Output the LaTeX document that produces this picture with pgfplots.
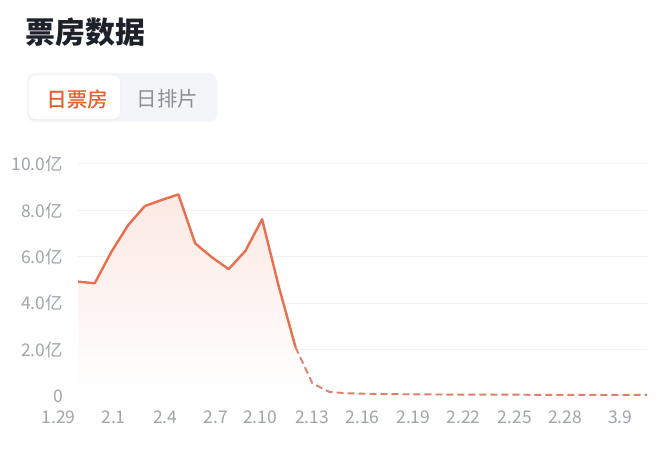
\documentclass[border=0pt]{standalone}
\usepackage{fontspec}
\setmainfont{Noto Sans CJK SC}
\newfontfamily\cjkmed[FakeBold=0.8]{Noto Sans CJK SC}
\usepackage{pgfplots}
\pgfplotsset{compat=1.18}
\definecolor{linec}{RGB}{232,112,78}
\definecolor{dashc}{RGB}{222,128,104}
\definecolor{tickc}{RGB}{160,164,171}
\definecolor{gridc}{RGB}{240,241,243}
\definecolor{titlec}{RGB}{29,33,41}
\definecolor{tabbg}{RGB}{243,245,248}
\definecolor{taborange}{RGB}{230,98,45}
\definecolor{tabgray}{RGB}{139,143,152}

\begin{document}
\begin{tikzpicture}[x=1bp,y=1bp]
\useasboundingbox[fill=white] (0,0) rectangle (660,462);
% title and tabs
\node[anchor=west, inner sep=0, text=titlec, font=\fontsize{30}{30}\selectfont\bfseries] at (25.5,429.5) {票房数据};
\fill[tabbg, rounded corners=8bp] (27,340) rectangle (217,389);
\fill[black!6, rounded corners=7bp] (29,341.5) rectangle (120.5,386);
\fill[white, rounded corners=7bp] (29,343) rectangle (120,386.5);
\node[inner sep=0, text=taborange, font=\fontsize{20.5}{20.5}\selectfont\cjkmed] at (77,363) {日票房};
\node[inner sep=0, text=tabgray, font=\fontsize{20.5}{20.5}\selectfont] at (167.5,363) {日排片};

\begin{axis}[
    at={(78bp,66bp)}, anchor=south west,
    scale only axis, width=569bp, height=232bp,
    xmin=0, xmax=34, ymin=0, ymax=10,
    axis line style={draw=none},
    major tick length=0pt,
    ytick={0,2,4,6,8,10},
    yticklabels={0,2.0亿,4.0亿,6.0亿,8.0亿,10.0亿},
    xtick={2.12,5.22,8.23,10.88,13.99,17.01,20.04,23.04,26.1,29.1,32.4},
    xticklabels={2.1,2.4,2.7,2.10,2.13,2.16,2.19,2.22,2.25,2.28,3.9},
    ymajorgrids, grid style={gridc, line width=1bp},
    tick label style={inner sep=0pt, text=tickc, font=\fontsize{17.5}{17.5}\selectfont},
    xticklabel style={anchor=center, yshift=-21.5bp},
    yticklabel style={anchor=east, xshift=-15bp},
    clip=false,
]
% area under the whole series
\addplot[draw=none, top color=linec!16, bottom color=white, forget plot] coordinates {
    (0,4.93) (1,4.86) (2,6.22) (3,7.37) (4,8.19) (5,8.45) (6,8.69) (7,6.58)
    (8,5.98) (9,5.47) (10,6.25) (11,7.62) (12,4.71) (13,2.1) (14,0.55) (15,0.18)
    (16,0.12) (17,0.1) (18,0.09) (19,0.08) (20,0.07) (21,0.07) (22,0.06) (23,0.06)
    (24,0.06) (25,0.06) (26,0.06) (27,0.05) (28,0.05) (29,0.05) (30,0.05) (31,0.05)
    (32,0.05) (33,0.05) (34,0.05)
} \closedcycle;
% actual box office
\addplot[linec, line width=2.4bp, line join=round] coordinates {
    (0,4.93) (1,4.86) (2,6.22) (3,7.37) (4,8.19) (5,8.45) (6,8.69) (7,6.58)
    (8,5.98) (9,5.47) (10,6.25) (11,7.62) (12,4.71) (13,2.1)
};
% forecast
\addplot[dashc, line width=1.9bp, dash pattern=on 7bp off 4bp, line join=round] coordinates {
    (13,2.1) (14,0.55) (15,0.18)
    (16,0.12) (17,0.1) (18,0.09) (19,0.08) (20,0.07) (21,0.07) (22,0.06) (23,0.06)
    (24,0.06) (25,0.06) (26,0.06) (27,0.05) (28,0.05) (29,0.05) (30,0.05) (31,0.05)
    (32,0.05) (33,0.05) (34,0.05)
};
\node[inner sep=0, text=tickc, font=\fontsize{17.5}{17.5}\selectfont, yshift=-21.5bp] at (axis cs:-1.16,0) {1.29};
\end{axis}
\end{tikzpicture}
\end{document}
